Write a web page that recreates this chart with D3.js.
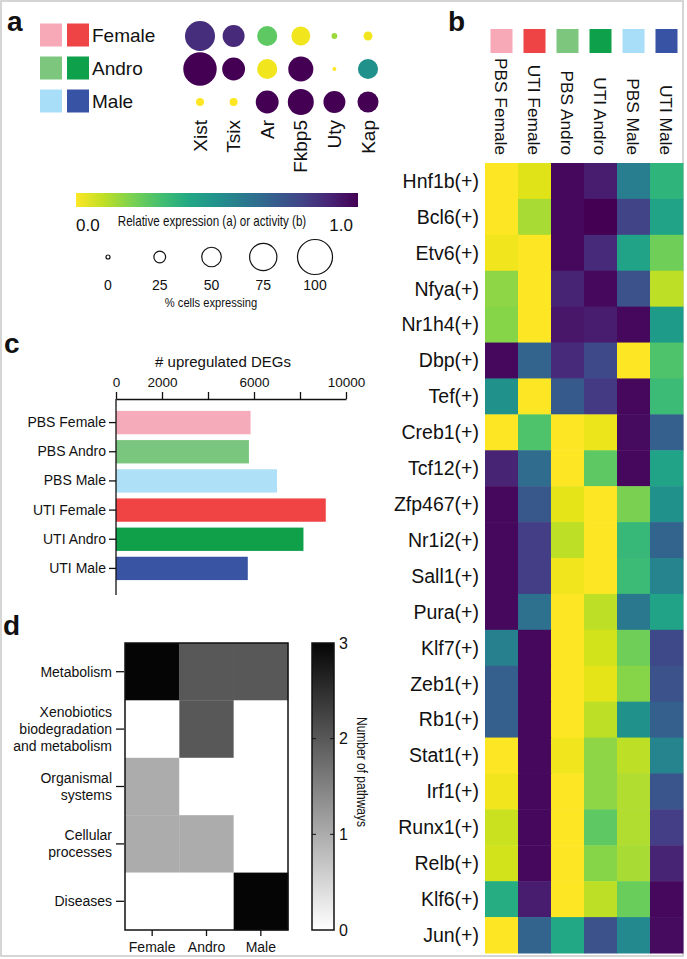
<!DOCTYPE html>
<html>
<head>
<meta charset="utf-8">
<script src="https://cdn.jsdelivr.net/npm/d3@7"></script>
<style>
body { margin: 0; background: #fff; }
text { font-family: "Liberation Sans", Arial, sans-serif; fill: #111; }
</style>
</head>
<body>
<script>
var svgWidth = 687;
var svgHeight = 959;

// ---- panel a: dot plot ----
var groups = ["Female", "Andro", "Male"];
var pbsColors = ["#f7a9b8", "#7cc67d", "#a9def9"];
var utiColors = ["#ee4445", "#0ea04b", "#3953a4"];
var genes = ["Xist", "Tsix", "Ar", "Fkbp5", "Uty", "Kap"];
// relative expression, rows = groups
var dotExpression = [
  [0.87, 0.88, 0.25, 0.02, 0.15, 0.02],
  [1.0, 1.0, 0.02, 1.0, 0.0, 0.5],
  [0.0, 0.0, 1.0, 1.0, 1.0, 1.0]
];
// % cells expressing
var dotPercent = [
  [84, 58, 52, 48, 6, 16],
  [95, 61, 52, 68, 0, 52],
  [13, 13, 61, 71, 58, 55]
];
var sizeLegend = [0, 25, 50, 75, 100];

// ---- panel b: regulon activity heatmap ----
var conditions = ["PBS Female", "UTI Female", "PBS Andro", "UTI Andro", "PBS Male", "UTI Male"];
var conditionColors = ["#f7a9b8", "#ee4445", "#7cc67d", "#0ea04b", "#a9def9", "#3953a4"];
var regulons = ["Hnf1b(+)", "Bcl6(+)", "Etv6(+)", "Nfya(+)", "Nr1h4(+)", "Dbp(+)", "Tef(+)",
  "Creb1(+)", "Tcf12(+)", "Zfp467(+)", "Nr1i2(+)", "Sall1(+)", "Pura(+)", "Klf7(+)",
  "Zeb1(+)", "Rb1(+)", "Stat1(+)", "Irf1(+)", "Runx1(+)", "Relb(+)", "Klf6(+)", "Jun(+)"];
var activity = [
  [0, 0.05, 0.98, 0.92, 0.58, 0.35],
  [0, 0.13, 0.98, 1, 0.8, 0.42],
  [0.02, 0, 0.98, 0.88, 0.42, 0.22],
  [0.17, 0, 0.9, 0.98, 0.75, 0.1],
  [0.18, 0, 0.94, 0.92, 0.98, 0.45],
  [0.98, 0.68, 0.88, 0.78, 0, 0.28],
  [0.5, 0, 0.72, 0.83, 0.98, 0.32],
  [0, 0.28, 0, 0.03, 0.97, 0.7],
  [0.9, 0.65, 0, 0.25, 0.98, 0.42],
  [0.98, 0.73, 0.04, 0, 0.2, 0.5],
  [0.98, 0.82, 0.1, 0, 0.33, 0.68],
  [0.98, 0.82, 0.02, 0, 0.32, 0.55],
  [0.98, 0.63, 0, 0.1, 0.6, 0.42],
  [0.57, 0.98, 0, 0.07, 0.22, 0.78],
  [0.7, 0.98, 0, 0.04, 0.18, 0.75],
  [0.7, 0.98, 0, 0.1, 0.5, 0.7],
  [0, 0.98, 0.02, 0.17, 0.1, 0.55],
  [0.02, 0.98, 0, 0.17, 0.12, 0.74],
  [0.08, 0.98, 0, 0.25, 0.12, 0.82],
  [0.07, 0.98, 0, 0.18, 0.13, 0.9],
  [0.38, 0.92, 0, 0.1, 0.23, 0.98],
  [0, 0.68, 0.4, 0.75, 0.53, 0.97]
];

// ---- panel c: upregulated DEGs ----
var degConditions = ["PBS Female", "PBS Andro", "PBS Male", "UTI Female", "UTI Andro", "UTI Male"];
var degColors = ["#f5abb9", "#7bc67e", "#aee0f7", "#ef4344", "#10a04a", "#3a54a4"];
var degCounts = [5850, 5780, 7000, 9120, 8150, 5730];
var degTicks = [0, 2000, 4000, 6000, 8000, 10000];
var degTickLabels = ["0", "2000", "", "6000", "", "10000"];

// ---- panel d: pathways ----
var pathwayCats = [["Metabolism"], ["Xenobiotics", "biodegradation", "and metabolism"],
  ["Organismal", "systems"], ["Cellular", "processes"], ["Diseases"]];
var pathwayCounts = [
  [3, 2, 2],
  [0, 2, 0],
  [1, 0, 0],
  [1, 1, 0],
  [0, 0, 3]
];
var pathwayTicks = [0, 1, 2, 3];

var svg = d3.select("body")
  .append("svg")
  .attr("width", svgWidth)
  .attr("height", svgHeight);

svg.append("rect")
  .attr("x", 0).attr("y", 0)
  .attr("width", svgWidth).attr("height", svgHeight)
  .attr("fill", "#fff");

// outer frame
svg.append("rect")
  .attr("x", 1).attr("y", 1)
  .attr("width", 682).attr("height", 955)
  .attr("fill", "none")
  .attr("stroke", "#c8c8c8")
  .attr("stroke-width", 1.5);

function panelLabel(t, x, y) {
  svg.append("text").attr("x", x).attr("y", y)
    .attr("font-size", 28).attr("font-weight", "bold").text(t);
}

// narrow text (the figure uses a condensed face) - squeeze horizontally
function narrowText(x, y, size, sx, str, rot) {
  return svg.append("text")
    .attr("transform", "translate(" + x + "," + y + ")" + (rot ? " rotate(" + rot + ")" : "") + " scale(" + sx + ",1)")
    .attr("text-anchor", "middle")
    .attr("font-size", size)
    .text(str);
}

var viridis = function(v) { return d3.interpolateViridis(1 - v); };

// ===== panel a =====
panelLabel("a", 7, 31);

var gy = d3.scalePoint().domain(groups).range([35, 101]);
var legA = svg.append("g");
groups.forEach(function(g, i) {
  legA.append("rect").attr("x", 40).attr("y", gy(g) - 11.5).attr("width", 22).attr("height", 23)
    .attr("fill", pbsColors[i]);
  legA.append("rect").attr("x", 67).attr("y", gy(g) - 11.5).attr("width", 22).attr("height", 23)
    .attr("fill", utiColors[i]);
  legA.append("text").attr("x", 92).attr("y", gy(g)).attr("dy", "0.35em")
    .attr("font-size", 19).text(g);
});

var gx = d3.scalePoint().domain(genes).range([200, 368]);
var rScale = d3.scaleLinear().domain([0, 100]).range([2, 17.5]);

var dots = [];
groups.forEach(function(g, i) {
  genes.forEach(function(gene, j) {
    dots.push({ group: g, gene: gene, expr: dotExpression[i][j], pct: dotPercent[i][j] });
  });
});
svg.append("g").selectAll("circle")
  .data(dots)
  .enter().append("circle")
  .attr("cx", function(d) { return gx(d.gene); })
  .attr("cy", function(d) { return gy(d.group) + 1; })
  .attr("r", function(d) { return rScale(d.pct); })
  .attr("fill", function(d) { return viridis(d.expr); });

svg.append("g").selectAll("text")
  .data(genes)
  .enter().append("text")
  .attr("transform", function(d) { return "translate(" + gx(d) + ",120) rotate(-90)"; })
  .attr("text-anchor", "end")
  .attr("dy", "0.35em")
  .attr("font-size", 19)
  .text(function(d) { return d; });

// colour bar
var grad = svg.append("defs").append("linearGradient").attr("id", "vir")
  .attr("x1", "0%").attr("x2", "100%").attr("y1", "0%").attr("y2", "0%");
d3.range(0, 1.001, 0.1).forEach(function(s) {
  grad.append("stop").attr("offset", (s * 100) + "%").attr("stop-color", viridis(s));
});
svg.append("rect").attr("x", 76).attr("y", 193).attr("width", 282).attr("height", 14)
  .attr("fill", "url(#vir)");
svg.append("text").attr("x", 76).attr("y", 231).attr("font-size", 17).text("0.0");
svg.append("text").attr("x", 353).attr("y", 231).attr("font-size", 17).attr("text-anchor", "end").text("1.0");
narrowText(212, 226, 14, 0.83, "Relative expression (a) or activity (b)");

// size legend
var sx = d3.scalePoint().domain(sizeLegend).range([108, 315]);
var sl = svg.append("g").selectAll("g").data(sizeLegend).enter().append("g");
sl.append("circle")
  .attr("cx", function(d) { return sx(d); })
  .attr("cy", 257)
  .attr("r", function(d) { return rScale(d); })
  .attr("fill", "none").attr("stroke", "#111").attr("stroke-width", 1.2);
sl.append("text")
  .attr("x", function(d) { return sx(d); })
  .attr("y", 290).attr("font-size", 14).attr("text-anchor", "middle")
  .text(function(d) { return d; });
narrowText(211, 307, 13, 0.86, "% cells expressing");

// ===== panel b =====
panelLabel("b", 448, 31);

var hx = d3.scaleBand().domain(conditions).range([485, 683]);
var hy = d3.scaleBand().domain(regulons).range([163, 953]);

svg.append("g").selectAll("rect")
  .data(conditions)
  .enter().append("rect")
  .attr("x", function(d) { return hx(d) + hx.bandwidth() / 2 - 11; })
  .attr("y", 29).attr("width", 22).attr("height", 24)
  .attr("fill", function(d, i) { return conditionColors[i]; });

svg.append("g").selectAll("text")
  .data(conditions)
  .enter().append("text")
  .attr("transform", function(d) { return "translate(" + (hx(d) + hx.bandwidth() / 2) + ",155) rotate(90)"; })
  .attr("text-anchor", "end")
  .attr("dy", "0.35em")
  .attr("font-size", 17.3)
  .text(function(d) { return d; });

var cells = [];
regulons.forEach(function(r, i) {
  conditions.forEach(function(c, j) {
    cells.push({ reg: r, cond: c, v: activity[i][j] });
  });
});
svg.append("g").selectAll("rect")
  .data(cells)
  .enter().append("rect")
  .attr("x", function(d) { return hx(d.cond); })
  .attr("y", function(d) { return hy(d.reg); })
  .attr("width", hx.bandwidth() + 0.5)
  .attr("height", hy.bandwidth() + 0.5)
  .attr("fill", function(d) { return viridis(d.v); });

svg.append("g").selectAll("text")
  .data(regulons)
  .enter().append("text")
  .attr("x", 479)
  .attr("y", function(d) { return hy(d) + hy.bandwidth() / 2; })
  .attr("dy", "0.35em")
  .attr("text-anchor", "end")
  .attr("font-size", 19.5)
  .text(function(d) { return d; });

// ===== panel c =====
panelLabel("c", 4, 353);

var bx = d3.scaleLinear().domain([0, 10000]).range([116, 346]);
var by = d3.scaleBand().domain(degConditions).range([408, 583]).paddingInner(0.2).paddingOuter(0.1);

svg.append("text").attr("x", 223).attr("y", 367).attr("font-size", 15).attr("text-anchor", "middle")
  .text("# upregulated DEGs");

svg.append("g").selectAll("rect")
  .data(degCounts)
  .enter().append("rect")
  .attr("x", bx(0))
  .attr("y", function(d, i) { return by(degConditions[i]); })
  .attr("width", function(d) { return bx(d) - bx(0); })
  .attr("height", by.bandwidth())
  .attr("fill", function(d, i) { return degColors[i]; });

var xTop = svg.append("g").attr("transform", "translate(0,399)")
  .call(d3.axisTop(bx).tickValues(degTicks).tickSize(7).tickSizeOuter(0)
    .tickFormat(function(d, i) { return degTickLabels[i]; }));
xTop.selectAll("text").attr("font-size", 13.5).attr("font-family", null).attr("dy", "-0.15em");
xTop.selectAll("path, line").attr("stroke", "#111").attr("stroke-width", 1.3);

var yLeft = svg.append("g").attr("transform", "translate(116,0)")
  .call(d3.axisLeft(by).tickSize(7).tickSizeOuter(0));
yLeft.select(".domain").attr("d", "M0,399V595");
yLeft.selectAll("text").attr("font-size", 14).attr("font-family", null);
yLeft.selectAll("path, line").attr("stroke", "#111").attr("stroke-width", 1.3);

// ===== panel d =====
panelLabel("d", 3, 635);

var pGroups = groups;
var pCatNames = pathwayCats.map(function(c) { return c.join(" "); });
var px = d3.scaleBand().domain(pGroups).range([125, 288]);
var py = d3.scaleBand().domain(pCatNames).range([643, 930]);
var grey = d3.scaleLinear().domain([0, 3]).range(["#ffffff", "#050505"]);

var pcells = [];
pCatNames.forEach(function(c, i) {
  pGroups.forEach(function(g, j) {
    pcells.push({ cat: c, grp: g, v: pathwayCounts[i][j] });
  });
});
svg.append("g").selectAll("rect")
  .data(pcells)
  .enter().append("rect")
  .attr("x", function(d) { return px(d.grp); })
  .attr("y", function(d) { return py(d.cat); })
  .attr("width", px.bandwidth() + 0.3)
  .attr("height", py.bandwidth() + 0.3)
  .attr("fill", function(d) { return grey(d.v); });

svg.append("rect").attr("x", 125).attr("y", 643).attr("width", 163).attr("height", 287)
  .attr("fill", "none").attr("stroke", "#111").attr("stroke-width", 1.5);

var pyAxis = svg.append("g").attr("transform", "translate(124,0)")
  .call(d3.axisLeft(py).tickSize(8).tickSizeOuter(0).tickFormat(""));
pyAxis.select(".domain").remove();
pyAxis.selectAll("line").attr("stroke", "#111").attr("stroke-width", 1.3);

var catLabels = svg.append("g").selectAll("text")
  .data(pathwayCats)
  .enter().append("text")
  .attr("text-anchor", "end")
  .attr("font-size", 14);
catLabels.each(function(lines, i) {
  var cy = py(pCatNames[i]) + py.bandwidth() / 2;
  var t = d3.select(this);
  lines.forEach(function(l, k) {
    t.append("tspan").attr("x", 112)
      .attr("y", cy + (k - (lines.length - 1) / 2) * 17)
      .attr("dy", "0.35em")
      .text(l);
  });
});

var pxAxis = svg.append("g").attr("transform", "translate(0,930)")
  .call(d3.axisBottom(px).tickSize(6).tickSizeOuter(0));
pxAxis.select(".domain").remove();
pxAxis.selectAll("line").attr("stroke", "#111").attr("stroke-width", 1.3);
pxAxis.selectAll("text").attr("font-size", 14).attr("font-family", null).attr("dy", "0.9em");

// grey colour bar
var ggrad = svg.select("defs").append("linearGradient").attr("id", "greys")
  .attr("x1", "0%").attr("x2", "0%").attr("y1", "100%").attr("y2", "0%");
pathwayTicks.forEach(function(t) {
  ggrad.append("stop").attr("offset", (t / 3 * 100) + "%").attr("stop-color", grey(t));
});
var cbScale = d3.scaleLinear().domain([0, 3]).range([930, 643]);
svg.append("rect").attr("x", 312).attr("y", 643).attr("width", 22).attr("height", 287)
  .attr("fill", "url(#greys)").attr("stroke", "#111").attr("stroke-width", 1.5);
var cbAxis = svg.append("g").attr("transform", "translate(334,0)")
  .call(d3.axisRight(cbScale).tickValues(pathwayTicks).tickSize(0).tickPadding(5).tickFormat(d3.format("d")));
cbAxis.select(".domain").remove();
cbAxis.selectAll("text").attr("font-size", 16).attr("font-family", null);
// small inner ticks at 1 and 2 on both sides
svg.append("g").selectAll("line")
  .data([1, 2, 1, 2])
  .enter().append("line")
  .attr("x1", function(d, i) { return i < 2 ? 312 : 330; })
  .attr("x2", function(d, i) { return i < 2 ? 316 : 334; })
  .attr("y1", function(d) { return cbScale(d); })
  .attr("y2", function(d) { return cbScale(d); })
  .attr("stroke", "#111").attr("stroke-width", 1);

narrowText(362, 772, 15, 0.8, "Number of pathways", 90).attr("dy", "0.35em");
</script>
</body>
</html>
